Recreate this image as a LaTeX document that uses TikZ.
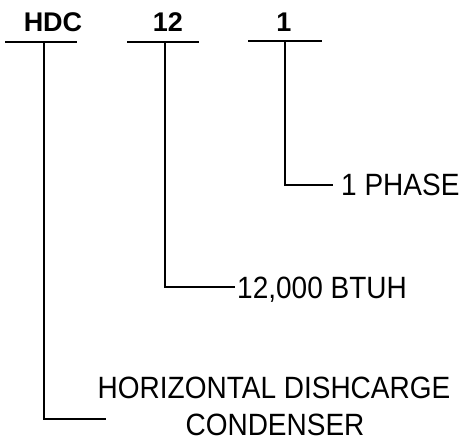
\documentclass[tikz,border=0pt]{standalone}
\usepackage{fontspec}
\setmainfont{Liberation Sans}
\newcommand{\tallt}[1]{\scalebox{1}[1.1]{#1}}
\begin{document}
\begin{tikzpicture}[x=1pt,y=-1pt,
  lbl/.style={inner sep=0pt, font=\fontsize{28}{32}\selectfont},
  hdr/.style={inner sep=0pt, anchor=base, font=\fontsize{27}{30}\selectfont\bfseries},
  ln/.style={line width=1.8pt, line cap=butt}]
\useasboundingbox (0,0) rectangle (466,440);
% headers
\node[hdr] (hdc) at (53,31) {HDC};
\node[hdr] (twelve) at (168,31) {12};
\node[hdr] (one) at (284,31) {1};
% bars
\coordinate (b1l) at (5,42);  \coordinate (b1r) at (77,42);
\coordinate (b2l) at (127,42); \coordinate (b2r) at (199,42);
\coordinate (b3l) at (248,41); \coordinate (b3r) at (322,41);
\draw[ln] (b1l) -- (b1r);
\draw[ln] (b2l) -- (b2r);
\draw[ln] (b3l) -- (b3r);
% labels
\node[lbl, anchor=base west] (phase) at (341,195) {\tallt{1 PHASE}};
\node[lbl, anchor=base west] (btuh) at (237,298) {\tallt{12,000 BTUH}};
\node[lbl, anchor=base] (desc1) at (274,398) {\tallt{HORIZONTAL DISHCARGE}};
\node[lbl, anchor=base] (desc2) at (275,435) {\tallt{CONDENSER}};
% leaders
\coordinate (t1) at (44,42);  \coordinate (c1) at (44,419); \coordinate (e1) at (106,419);
\coordinate (t2) at (165,42); \coordinate (c2) at (165,287); \coordinate (e2) at (235,287);
\coordinate (t3) at (285,41); \coordinate (c3) at (285,185); \coordinate (e3) at (333,185);
\draw[ln] (t1) -- (c1) -- (e1);
\draw[ln] (t2) -- (c2) -- (e2);
\draw[ln] (t3) -- (c3) -- (e3);
\end{tikzpicture}
\end{document}
